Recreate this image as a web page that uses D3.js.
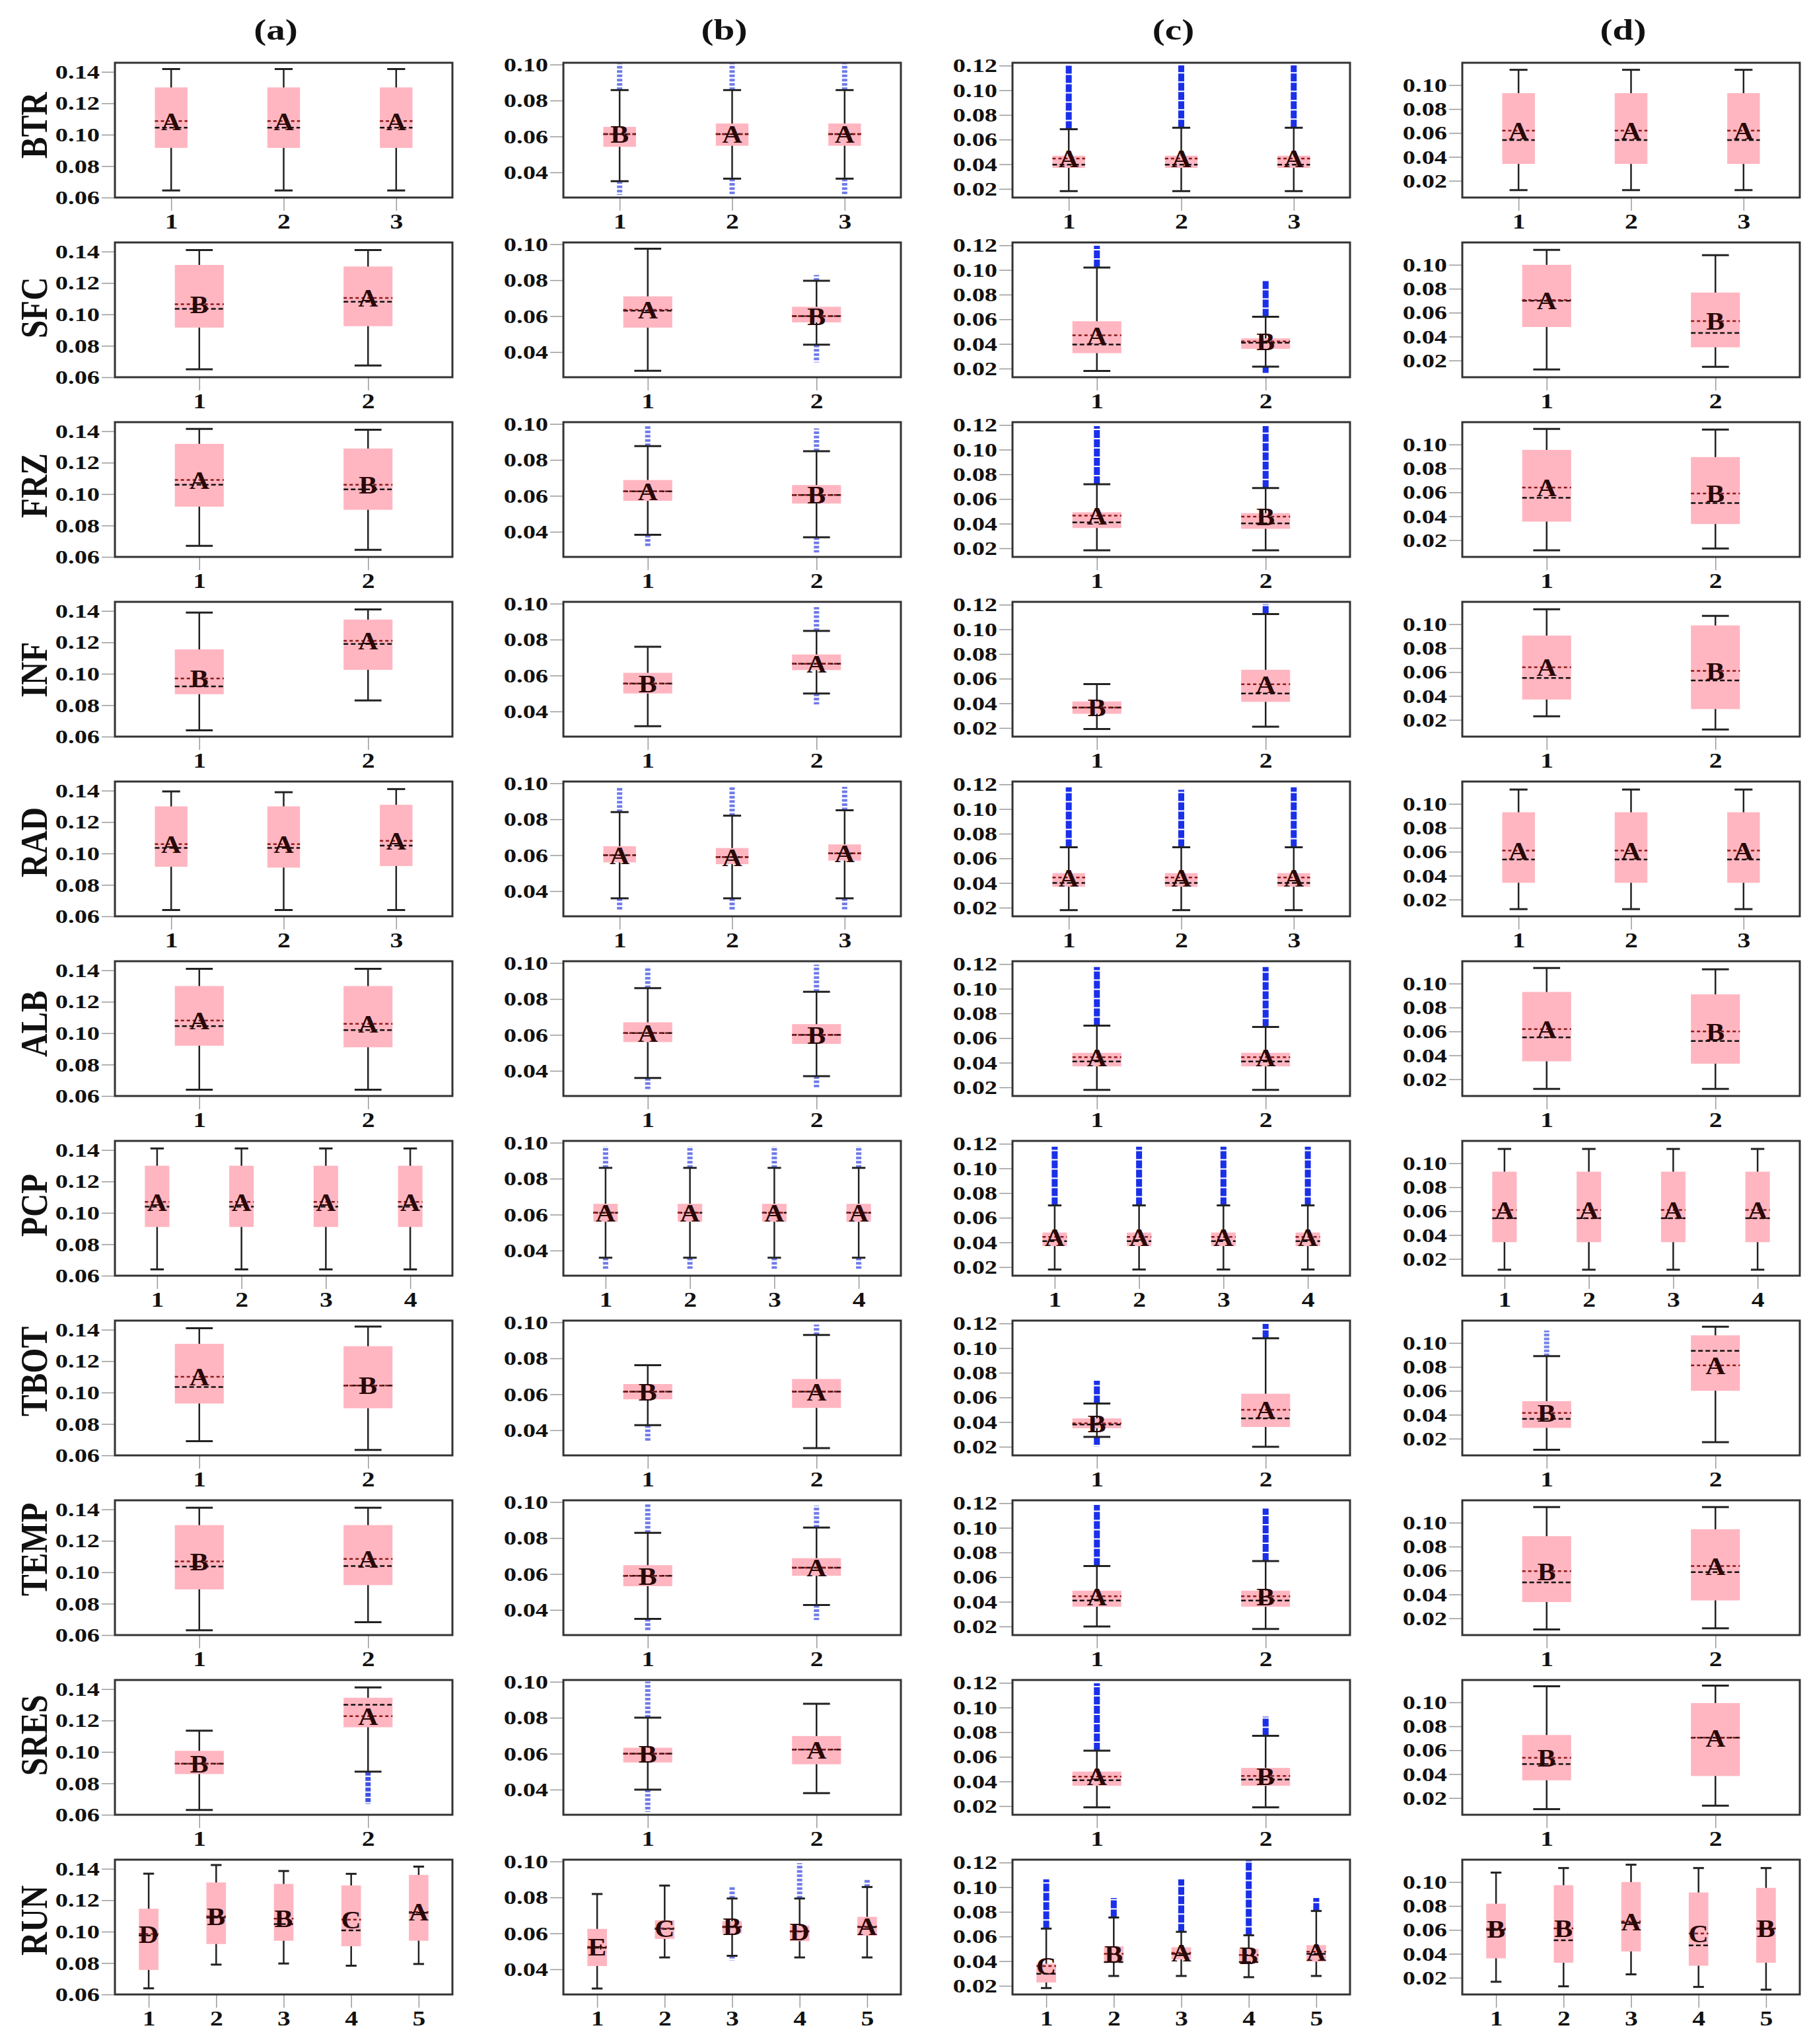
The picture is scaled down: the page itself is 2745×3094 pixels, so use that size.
<!DOCTYPE html>
<html>
<head>
<meta charset="utf-8">
<script src="https://cdn.jsdelivr.net/npm/d3@7"></script>
<style>
  body { margin: 0; background: #fff; }
</style>
</head>
<body>
<div id="chart"></div>
<script>
// ---- data ----
var rowNames = ["BTR", "SFC", "FRZ", "INF", "RAD", "ALB", "PCP", "TBOT", "TEMP", "SRES", "RUN"];
var colTitles = ["(a)", "(b)", "(c)", "(d)"];
var xLabels = [["1","2","3"], ["1","2"], ["1","2"], ["1","2"], ["1","2","3"], ["1","2"],
               ["1","2","3","4"], ["1","2"], ["1","2"], ["1","2"], ["1","2","3","4","5"]];
var yDomains = [[0.06, 0.1458], [0.026, 0.101], [0.013, 0.1223], [0.006, 0.1187]];
var yTicks = [[0.06, 0.08, 0.10, 0.12, 0.14], [0.04, 0.06, 0.08, 0.10],
              [0.02, 0.04, 0.06, 0.08, 0.10, 0.12], [0.02, 0.04, 0.06, 0.08, 0.10]];

// each stat: [row][column a..d][box]
var whiskerLow = [
  [[0.0645,0.0645,0.0645],[0.0351,0.0365,0.0365],[0.0182,0.0182,0.0182],[0.0122,0.0122,0.0122]],
  [[0.065,0.0675],[0.0296,0.0441],[0.0181,0.0216],[0.0125,0.0147]],
  [[0.067,0.0645],[0.0383,0.0369],[0.0184,0.0184],[0.0115,0.013]],
  [[0.064,0.083],[0.0318,0.050],[0.0192,0.0211],[0.023,0.012]],
  [[0.064,0.064,0.064],[0.036,0.036,0.036],[0.018,0.018,0.018],[0.012,0.012,0.012]],
  [[0.064,0.064],[0.036,0.037],[0.018,0.018],[0.012,0.012]],
  [[0.064,0.064,0.064,0.064],[0.036,0.036,0.036,0.036],[0.018,0.018,0.018,0.018],[0.011,0.011,0.011,0.011]],
  [[0.069,0.0635],[0.0428,0.030],[0.028,0.020],[0.0107,0.0171]],
  [[0.0631,0.0682],[0.035,0.0427],[0.020,0.018],[0.0107,0.0116]],
  [[0.0631,0.0874],[0.040,0.038],[0.019,0.019],[0.0107,0.0136]],
  [[0.0639,0.079,0.0797,0.0783,0.0794],[0.0293,0.0466,0.0475,0.0466,0.0466],[0.0182,0.028,0.028,0.027,0.028],[0.0166,0.0128,0.0228,0.0123,0.010]]
];
var quart1 = [
  [[0.0916,0.0916,0.0916],[0.0542,0.0548,0.0548],[0.037,0.037,0.037],[0.0341,0.0341,0.0341]],
  [[0.0916,0.0925],[0.0536,0.0565],[0.0325,0.036],[0.048,0.031]],
  [[0.092,0.090],[0.0572,0.0557],[0.0364,0.0358],[0.0355,0.0335]],
  [[0.087,0.1025],[0.050,0.063],[0.0315,0.0412],[0.037,0.029]],
  [[0.0915,0.091,0.092],[0.056,0.055,0.057],[0.037,0.037,0.037],[0.034,0.034,0.034]],
  [[0.092,0.091],[0.056,0.055],[0.037,0.037],[0.035,0.033]],
  [[0.091,0.091,0.091,0.091],[0.056,0.056,0.056,0.056],[0.037,0.037,0.037,0.037],[0.034,0.034,0.034,0.034]],
  [[0.093,0.090],[0.0572,0.0524],[0.035,0.036],[0.029,0.060]],
  [[0.0891,0.0918],[0.0532,0.059],[0.036,0.036],[0.0336,0.035]],
  [[0.0859,0.1157],[0.0551,0.0541],[0.0365,0.0365],[0.0348,0.0384]],
  [[0.0756,0.0921,0.0942,0.0907,0.0942],[0.0418,0.0569,0.060,0.0557,0.0587],[0.0227,0.0388,0.0414,0.0388,0.0396],[0.0362,0.0325,0.042,0.030,0.0325]]
];
var medianVal = [
  [[0.1045,0.1045,0.1045],[0.0613,0.0613,0.0613],[0.0397,0.0397,0.0397],[0.0541,0.0541,0.0541]],
  [[0.1035,0.108],[0.063,0.060],[0.0395,0.041],[0.070,0.043]],
  [[0.106,0.103],[0.0625,0.0605],[0.041,0.0402],[0.0555,0.051]],
  [[0.092,0.119],[0.0555,0.0665],[0.0366,0.048],[0.055,0.053]],
  [[0.1035,0.1035,0.105],[0.060,0.059,0.061],[0.040,0.040,0.040],[0.0535,0.0535,0.0535]],
  [[0.1045,0.102],[0.061,0.060],[0.041,0.041],[0.055,0.052]],
  [[0.104,0.104,0.104,0.104],[0.061,0.061,0.061,0.061],[0.041,0.041,0.041,0.041],[0.054,0.054,0.054,0.054]],
  [[0.1035,0.1045],[0.0615,0.0615],[0.038,0.043],[0.0365,0.0934]],
  [[0.1036,0.104],[0.059,0.0635],[0.041,0.041],[0.050,0.0586]],
  [[0.0925,0.130],[0.060,0.0623],[0.041,0.0415],[0.0484,0.0705]],
  [[0.0975,0.109,0.1048,0.1008,0.112],[0.052,0.0625,0.0635,0.061,0.0635],[0.0298,0.0393,0.046,0.0393,0.046],[0.060,0.0513,0.066,0.047,0.061]]
];
var meanVal = [
  [[0.1087,0.1087,0.1087],[0.0613,0.0613,0.0613],[0.0446,0.0446,0.0446],[0.062,0.062,0.062]],
  [[0.1065,0.1105],[0.0635,0.060],[0.047,0.042],[0.0705,0.053]],
  [[0.109,0.106],[0.0625,0.0605],[0.0465,0.0457],[0.064,0.059]],
  [[0.097,0.121],[0.0555,0.0665],[0.0366,0.0555],[0.064,0.061]],
  [[0.106,0.106,0.108],[0.060,0.059,0.061],[0.0445,0.0445,0.0445],[0.061,0.061,0.061]],
  [[0.108,0.106],[0.061,0.060],[0.0445,0.0445],[0.062,0.060]],
  [[0.107,0.107,0.107,0.107],[0.061,0.061,0.061,0.061],[0.0445,0.0445,0.0445,0.0445],[0.061,0.061,0.061,0.061]],
  [[0.110,0.1045],[0.0615,0.0615],[0.039,0.050],[0.0415,0.0813]],
  [[0.1069,0.1085],[0.059,0.0635],[0.0445,0.0445],[0.0594,0.0638]],
  [[0.0925,0.1228],[0.060,0.0623],[0.044,0.0445],[0.0536,0.0705]],
  [[0.0985,0.1097,0.1083,0.1076,0.1125],[0.0525,0.0628,0.0638,0.0612,0.0638],[0.036,0.0459,0.0468,0.045,0.0477],[0.061,0.0613,0.067,0.057,0.0613]]
];
var quart3 = [
  [[0.1301,0.1301,0.1301],[0.0653,0.0672,0.0672],[0.0469,0.0469,0.0469],[0.0933,0.0933,0.0933]],
  [[0.1315,0.1305],[0.071,0.0652],[0.0584,0.0445],[0.100,0.0768]],
  [[0.132,0.129],[0.0688,0.066],[0.0492,0.0485],[0.0955,0.0895]],
  [[0.1155,0.1345],[0.0615,0.0717],[0.0415,0.0672],[0.0905,0.099]],
  [[0.130,0.130,0.131],[0.065,0.064,0.066],[0.048,0.048,0.048],[0.093,0.093,0.093]],
  [[0.130,0.130],[0.067,0.066],[0.048,0.048],[0.093,0.091]],
  [[0.130,0.130,0.130,0.130],[0.066,0.066,0.066,0.066],[0.048,0.048,0.048,0.048],[0.093,0.093,0.093,0.093]],
  [[0.131,0.1295],[0.0657,0.0685],[0.043,0.063],[0.0513,0.1064]],
  [[0.130,0.130],[0.0649,0.0688],[0.049,0.049],[0.0887,0.0945]],
  [[0.1007,0.1345],[0.0633,0.0698],[0.048,0.051],[0.0727,0.0994]],
  [[0.1146,0.1313,0.1304,0.1294,0.1361],[0.0625,0.0673,0.0668,0.0643,0.0692],[0.038,0.052,0.0513,0.050,0.053],[0.0819,0.0974,0.100,0.0913,0.0951]]
];
var whiskerHigh = [
  [[0.1418,0.1418,0.1418],[0.0858,0.0858,0.0858],[0.0684,0.0696,0.0696],[0.1128,0.1128,0.1128]],
  [[0.141,0.141],[0.0975,0.0797],[0.102,0.062],[0.1125,0.108]],
  [[0.1415,0.141],[0.0877,0.0848],[0.072,0.0688],[0.113,0.1125]],
  [[0.139,0.141],[0.076,0.0848],[0.0556,0.1124],[0.1125,0.107]],
  [[0.1395,0.139,0.141],[0.084,0.082,0.085],[0.069,0.069,0.069],[0.112,0.112,0.112]],
  [[0.141,0.141],[0.086,0.084],[0.070,0.069],[0.113,0.112]],
  [[0.141,0.141,0.141,0.141],[0.086,0.086,0.086,0.086],[0.070,0.070,0.070,0.070],[0.112,0.112,0.112,0.112]],
  [[0.141,0.142],[0.0762,0.093],[0.055,0.108],[0.089,0.1136]],
  [[0.1411,0.1411],[0.0829,0.0858],[0.069,0.073],[0.113,0.113]],
  [[0.1135,0.1411],[0.080,0.0878],[0.065,0.077],[0.1134,0.114]],
  [[0.1369,0.1424,0.1386,0.1368,0.1414],[0.0819,0.0866,0.0794,0.0794,0.0858],[0.0664,0.0754,0.0638,0.061,0.0807],[0.1079,0.1117,0.1145,0.1117,0.1117]]
];
// extent of the outlier points beyond each whisker (null = none)
var outlierLow = [
  [[null,null,null],[0.0286,0.029,0.029],[null,null,null],[null,null,null]],
  [[null,null],[null,0.0354],[null,0.0181],[null,null]],
  [[null,null],[0.033,0.0296],[null,null],[null,null]],
  [[null,null],[null,0.045],[null,null],[null,null]],
  [[null,null,null],[0.030,0.030,0.031],[null,null,null],[null,null,null]],
  [[null,null],[0.031,0.032],[null,null],[null,null]],
  [[null,null,null,null],[0.031,0.031,0.031,0.031],[null,null,null,null],[null,null,null,null]],
  [[null,null],[0.0353,null],[0.022,null],[null,null]],
  [[null,null],[0.029,0.0355],[null,null],[null,null]],
  [[null,0.0682],[0.0287,null],[null,null],[null,null]],
  [[null,null,null,null,null],[null,null,0.046,null,null],[null,null,null,null,null],[null,null,null,null,null]]
];
var outlierHigh = [
  [[null,null,null],[0.0994,0.0994,0.0994],[0.1186,0.1186,0.1186],[null,null,null]],
  [[null,null],[null,0.0818],[0.118,0.0895],[null,null]],
  [[null,null],[0.0985,0.0964],[0.1175,0.1175],[null,null]],
  [[null,null],[null,0.097],[null,0.1187],[null,null]],
  [[null,null,null],[0.097,0.097,0.097],[0.116,0.114,0.116],[null,null,null]],
  [[null,null],[0.097,0.098],[0.116,0.116],[null,null]],
  [[null,null,null,null],[0.097,0.097,0.097,0.097],[0.116,0.116,0.116,0.116],[null,null,null,null]],
  [[null,null],[null,0.0977],[0.072,0.118],[0.1087,null]],
  [[null,null],[0.098,0.097],[0.117,0.114],[null,null]],
  [[null,null],[0.099,null],[0.118,0.091],[null,null]],
  [[null,null,null,null,null],[null,null,0.0848,0.098,0.0886],[0.1048,0.0896,0.1048,0.12,0.0896],[null,null,null,null,null]]
];
var groupLetters = [
  [["A","A","A"],["B","A","A"],["A","A","A"],["A","A","A"]],
  [["B","A"],["A","B"],["A","B"],["A","B"]],
  [["A","B"],["A","B"],["A","B"],["A","B"]],
  [["B","A"],["B","A"],["B","A"],["A","B"]],
  [["A","A","A"],["A","A","A"],["A","A","A"],["A","A","A"]],
  [["A","A"],["A","B"],["A","A"],["A","B"]],
  [["A","A","A","A"],["A","A","A","A"],["A","A","A","A"],["A","A","A","A"]],
  [["A","B"],["B","A"],["B","A"],["B","A"]],
  [["B","A"],["B","A"],["A","B"],["B","A"]],
  [["B","A"],["B","A"],["A","B"],["B","A"]],
  [["D","B","B","C","A"],["E","C","B","D","A"],["C","B","A","B","A"],["B","B","A","C","B"]]
];

// ---- layout ----
var W = 2745, H = 3094;
var plotLeft = [174, 853, 1533, 2214], plotW = 511, plotH = 204;
var rowTop0 = 95, rowStep = 272;
var serif = '"Liberation Serif", "Times New Roman", serif';
var tickSX = 1.28; // the figure's lettering is stretched sideways
var outColor = ["#2a3fe0", "#4a5ae6", "#1a30e8", "#5566e0"];
var outWidth = [8, 8, 9, 8];
var outDash = ["6,2", "4,2.5", "12,2", "4,2"];
var outOpacity = [0.9, 0.8, 1, 0.8];

var svg = d3.select("#chart").append("svg")
  .attr("width", W)
  .attr("height", H)
  .style("background", "#fff");

colTitles.forEach(function (t, c) {
  svg.append("text")
    .attr("transform", "translate(" + (plotLeft[c] + plotW / 2 - 12) + ",60) scale(1.3,1)")
    .attr("text-anchor", "middle")
    .attr("fill", "#111")
    .style("font", "bold 44px " + serif)
    .text(t);
});

rowNames.forEach(function (name, r) {
  var top = rowTop0 + r * rowStep;
  svg.append("text")
    .attr("transform", "translate(71," + (top + 145) + ") scale(1.15,1) rotate(-90)")
    .attr("fill", "#111")
    .style("font", "bold 49px " + serif)
    .text(name);

  for (var c = 0; c < 4; c++) {
    DrawPanel(r, c, top);
  }
});

function DrawPanel(r, c, top) {
  var g = svg.append("g").attr("transform", "translate(" + plotLeft[c] + "," + top + ")");
  var x = d3.scalePoint().domain(xLabels[r]).range([0, plotW]).padding(0.5);
  var y = d3.scaleLinear().domain(yDomains[c]).range([plotH, 0]);

  var ya = g.append("g")
    .call(d3.axisLeft(y).tickValues(yTicks[c]).tickSize(20).tickPadding(3).tickFormat(d3.format(".2f")));
  ya.select(".domain").remove();
  ya.selectAll("line").attr("stroke", "#9a9a9a").attr("stroke-width", 1.5);
  ya.selectAll("text")
    .attr("x", -23 / tickSX)
    .attr("transform", "scale(" + tickSX + ",1)")
    .attr("fill", "#111")
    .style("font", "bold 30px " + serif);

  var xa = g.append("g")
    .attr("transform", "translate(0," + plotH + ")")
    .call(d3.axisBottom(x).tickSize(20).tickPadding(5));
  xa.select(".domain").remove();
  xa.selectAll("line").attr("stroke", "#9a9a9a").attr("stroke-width", 1.5);
  xa.selectAll("text")
    .attr("transform", "scale(" + tickSX + ",1)")
    .attr("fill", "#111")
    .style("font", "bold 31px " + serif);

  var boxes = xLabels[r].map(function (cat, i) {
    return {
      cat: cat,
      lo: whiskerLow[r][c][i], q1: quart1[r][c][i], med: medianVal[r][c][i],
      mean: meanVal[r][c][i], q3: quart3[r][c][i], hi: whiskerHigh[r][c][i],
      outLo: outlierLow[r][c][i], outHi: outlierHigh[r][c][i],
      letter: groupLetters[r][c][i]
    };
  });

  var bw = x.step() * 0.29, cw = bw * 0.55;
  var items = g.selectAll(".bx").data(boxes).join("g")
    .attr("class", "bx")
    .attr("transform", function (d) { return "translate(" + x(d.cat) + ",0)"; });

  // outliers, drawn as the stacked column of points beyond the whisker
  items.filter(function (d) { return d.outHi != null; }).append("line")
    .attr("y1", function (d) { return y(d.hi); })
    .attr("y2", function (d) { return y(d.outHi) - 3; })
    .attr("stroke", outColor[c]).attr("stroke-width", outWidth[c])
    .attr("stroke-dasharray", outDash[c]).attr("opacity", outOpacity[c]);
  items.filter(function (d) { return d.outLo != null; }).append("line")
    .attr("y1", function (d) { return y(d.lo); })
    .attr("y2", function (d) { return y(d.outLo) + 3; })
    .attr("stroke", outColor[c]).attr("stroke-width", outWidth[c])
    .attr("stroke-dasharray", outDash[c]).attr("opacity", outOpacity[c]);

  items.append("line")
    .attr("y1", function (d) { return y(d.lo); })
    .attr("y2", function (d) { return y(d.hi); })
    .attr("stroke", "#222").attr("stroke-width", 2.5);
  ["lo", "hi"].forEach(function (k) {
    items.append("line")
      .attr("x1", -cw / 2).attr("x2", cw / 2)
      .attr("y1", function (d) { return y(d[k]); })
      .attr("y2", function (d) { return y(d[k]); })
      .attr("stroke", "#222").attr("stroke-width", 3);
  });

  items.append("rect")
    .attr("x", -bw / 2).attr("width", bw)
    .attr("y", function (d) { return y(d.q3); })
    .attr("height", function (d) { return y(d.q1) - y(d.q3); })
    .attr("fill", "#ffb6c1");

  items.append("line")
    .attr("x1", -bw / 2).attr("x2", bw / 2)
    .attr("y1", function (d) { return y(d.med); })
    .attr("y2", function (d) { return y(d.med); })
    .attr("stroke", "#111").attr("stroke-width", 2.5).attr("stroke-dasharray", "7,4");
  items.append("line")
    .attr("x1", -bw / 2).attr("x2", bw / 2)
    .attr("y1", function (d) { return y(d.mean); })
    .attr("y2", function (d) { return y(d.mean); })
    .attr("stroke", "#8b1a1a").attr("stroke-width", 2.5).attr("stroke-dasharray", "5,4");

  items.append("text")
    .attr("transform", function (d) { return "translate(0," + y(d.mean) + ") scale(1.1,1)"; })
    .attr("dy", "0.35em")
    .attr("text-anchor", "middle")
    .attr("fill", "#2a0808")
    .style("font", "bold 38px " + serif)
    .text(function (d) { return d.letter; });

  g.append("rect")
    .attr("width", plotW).attr("height", plotH)
    .attr("fill", "none").attr("stroke", "#333").attr("stroke-width", 3);
}
</script>
</body>
</html>
